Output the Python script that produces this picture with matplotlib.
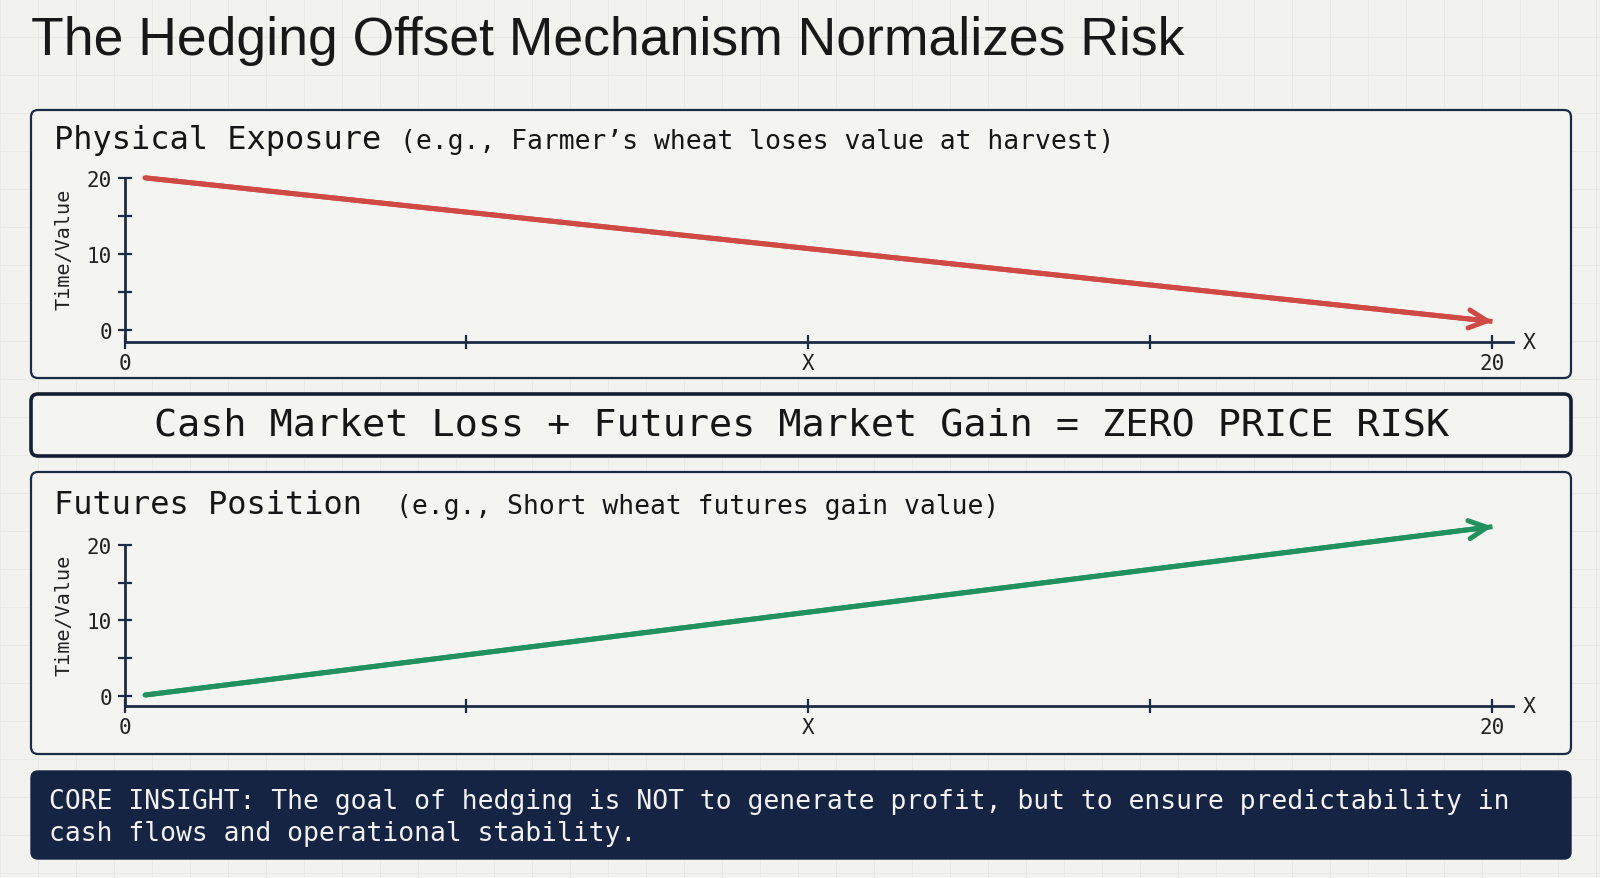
import matplotlib.pyplot as plt
from matplotlib.patches import FancyBboxPatch

# data
phys_x = [0.3, 20.0]
phys_y = [20.0, 1.1]
fut_x = [0.3, 20.0]
fut_y = [0.1, 22.4]
x_ticks = [0, 5, 10, 15, 20]
x_tick_labels = ['0', '', 'X', '', '20']
y_ticks = [0, 5, 10, 15, 20]
y_tick_labels = ['0', '', '10', '', '20']

title = 'The Hedging Offset Mechanism Normalizes Risk'
panel_titles = ['Physical Exposure', 'Futures Position']
panel_notes = ['(e.g., Farmer\u2019s wheat loses value at harvest)',
               '(e.g., Short wheat futures gain value)']
equation = 'Cash Market Loss + Futures Market Gain = ZERO PRICE RISK'
insight = ('CORE INSIGHT: The goal of hedging is NOT to generate profit, but to ensure predictability in\n'
           'cash flows and operational stability.')

NAVY = '#1c2b45'
BG = '#f2f2ee'
RED = '#cf4a44'
GREEN = '#22915f'
MONO = ['DejaVu Sans Mono']

W, H = 1600, 879
fig = plt.figure(figsize=(16, 8.79), dpi=100, facecolor=BG)

# background layer in pixel units
bg = fig.add_axes([0, 0, 1, 1], zorder=0)
bg.set_xlim(0, W)
bg.set_ylim(H, 0)
bg.axis('off')

# faint blueprint grid
for gx in range(0, W, 38):
    bg.plot([gx, gx], [0, H], color='#e8e8e4', lw=0.6, zorder=0)
for gy in range(0, H, 38):
    bg.plot([0, W], [gy, gy], color='#e8e8e4', lw=0.6, zorder=0)


def box(x0, y0, x1, y1, fc, ec, lw):
    p = FancyBboxPatch((x0, y0), x1 - x0, y1 - y0,
                       boxstyle='round,pad=0,rounding_size=7',
                       fc=fc, ec=ec, lw=lw, zorder=2)
    bg.add_patch(p)


bg.text(31, 41, title, fontsize=38.5, family='Liberation Sans', color='#181818',
        va='center', ha='left', zorder=3)

box(31, 111, 1571, 379, '#f4f4f1', NAVY, 1.6)
box(31, 395, 1571, 457, '#f4f4f1', '#141f33', 2.6)
box(31, 473, 1571, 755, '#f4f4f1', NAVY, 1.6)
box(31, 772, 1571, 860, '#152443', '#152443', 1)

bg.text(801, 426, equation, fontsize=27.7, family=MONO, color='#161616',
        ha='center', va='center', zorder=3)
bg.text(49, 818, insight, fontsize=19, family=MONO, color='#f2f2f2',
        ha='left', va='center', linespacing=1.3, zorder=3)

title_y = [141, 506]
note_x = [400, 396]
for i in range(2):
    bg.text(54, title_y[i], panel_titles[i], fontsize=23, family=MONO,
            color='#161616', ha='left', va='center', zorder=3)
    bg.text(note_x[i], title_y[i] + 1, panel_notes[i], fontsize=19, family=MONO,
            color='#161616', ha='left', va='center', zorder=3)


def panel(rect, ylo, xs, ys, color):
    ax = fig.add_axes(rect, zorder=4)
    ax.patch.set_alpha(0)
    ax.set_xlim(0, 20.3)
    ax.set_ylim(ylo, 23)
    for s in ['top', 'right']:
        ax.spines[s].set_visible(False)
    ax.spines['left'].set_bounds(ylo, 20)
    for s in ['left', 'bottom']:
        ax.spines[s].set_color(NAVY)
        ax.spines[s].set_linewidth(2)
    ax.set_xticks(x_ticks)
    ax.set_xticklabels(x_tick_labels)
    ax.set_yticks(y_ticks)
    ax.set_yticklabels(y_tick_labels)
    ax.tick_params(direction='inout', length=10, width=1.6, color=NAVY,
                   labelsize=15, labelcolor='#222222')
    ax.tick_params(axis='x', pad=3)
    ax.tick_params(axis='y', pad=4)
    for lab in ax.get_xticklabels() + ax.get_yticklabels():
        lab.set_family(MONO)
    ax.set_ylabel('Time/Value', family=MONO, fontsize=14.5, color='#222222')
    ax.yaxis.set_label_coords(-0.037, 0.5)
    ax.set_xlabel('X', family=MONO, fontsize=15.5, color='#222222')
    ax.xaxis.set_label_coords(1.0115, 0.0)
    ax.xaxis.label.set_va('center')
    ax.xaxis.label.set_ha('center')
    ax.plot(xs, ys, color=color, lw=3.6, solid_capstyle='butt', clip_on=False)
    ax.annotate('', xy=(xs[-1], ys[-1]), xytext=(xs[-2], ys[-2]),
                arrowprops=dict(arrowstyle='->,head_length=1.3,head_width=0.65',
                                color=color, lw=3.6, shrinkA=0, shrinkB=0),
                annotation_clip=False)
    return ax


px_unit1 = 7.6
ax1_h = (23 + 1.6) * px_unit1
panel([124.5 / W, (H - 343) / H, 1388.5 / W, ax1_h / H], -1.6, phys_x, phys_y, RED)

px_unit2 = 7.55
ax2_h = (23 + 1.35) * px_unit2
panel([124.5 / W, (H - 707) / H, 1388.5 / W, ax2_h / H], -1.35, fut_x, fut_y, GREEN)

fig.savefig('out.png', dpi=100, facecolor=BG)
